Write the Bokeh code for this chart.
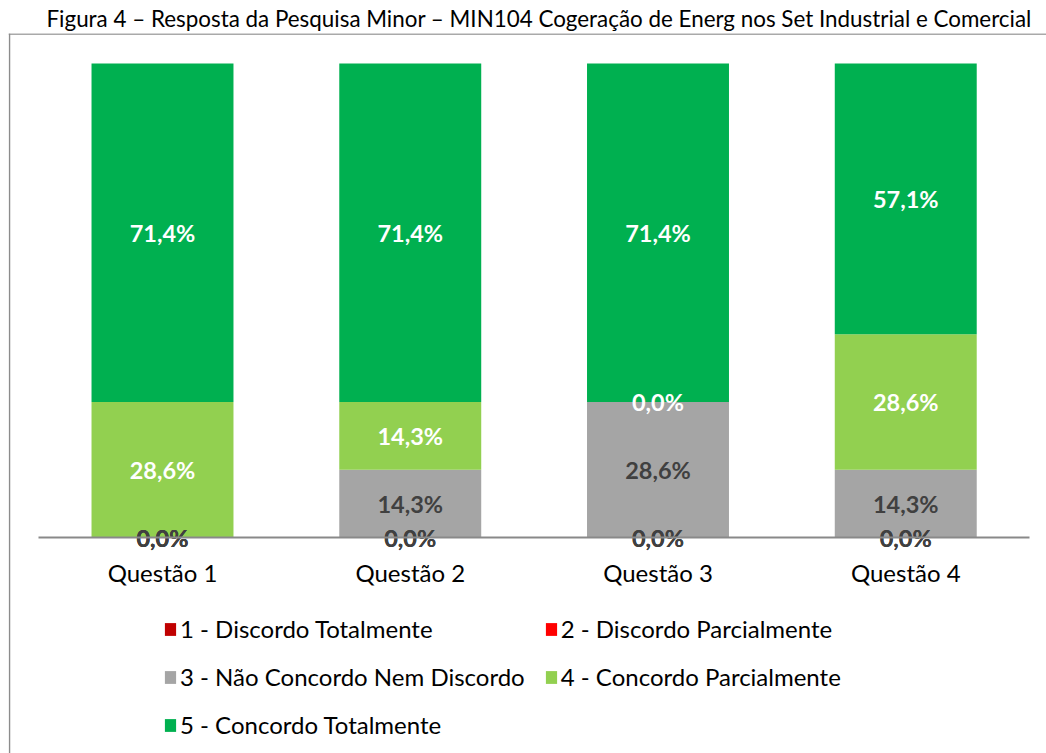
from bokeh.plotting import figure
from bokeh.models import (Range1d, ColumnDataSource, Legend, LegendItem, Span,
                          Title, FixedTicker)
from bokeh.core.properties import value
from bokeh.embed import file_html
from bokeh.resources import INLINE

# ---- data -------------------------------------------------------------
questions = ["Questão 1", "Questão 2", "Questão 3", "Questão 4"]
series_names = ["1 - Discordo Totalmente", "2 - Discordo Parcialmente",
                "3 - Não Concordo Nem Discordo", "4 - Concordo Parcialmente",
                "5 - Concordo Totalmente"]
discordo_total = [0.0, 0.0, 0.0, 0.0]
discordo_parcial = [0.0, 0.0, 0.0, 0.0]
neutro = [0.0, 14.3, 28.6, 14.3]
concordo_parcial = [28.6, 14.3, 0.0, 28.6]
concordo_total = [71.4, 71.4, 71.4, 57.1]
title_text = "Figura 4 – Resposta da Pesquisa Minor – MIN104 Cogeração de Energ nos Set Industrial e Comercial"

series_values = [discordo_total, discordo_parcial, neutro, concordo_parcial, concordo_total]
colors = ["#C00000", "#FF0000", "#A5A5A5", "#92D050", "#00B050"]
label_colors = ["#404040", "#404040", "#404040", "#FFFFFF", "#FFFFFF"]
keys = ["s1", "s2", "s3", "s4", "s5"]

FONT = "Lato"

# ---- layout geometry (pixels) -----------------------------------------
W, H = 1046, 753
FRAME_L, FRAME_T = 8, 33          # frame = chart box (left/top border)
CAT_PX = 247.75                   # pixels per category
FIRST_CENTER = 162.0              # pixel of first category centre
ZERO_PX, HUNDRED_PX = 537.0, 63.0
ppu_y = (ZERO_PX - HUNDRED_PX) / 100.0

x_start = (FRAME_L - FIRST_CENTER) / CAT_PX
x_end = (W - FIRST_CENTER) / CAT_PX
y_end = (ZERO_PX - FRAME_T) / ppu_y
y_start = -(H - ZERO_PX) / ppu_y

xs = list(range(len(questions)))
data = {"x": xs}
for k, vals in zip(keys, series_values):
    data[k] = vals
source = ColumnDataSource(data)

p = figure(width=W, height=H, x_range=Range1d(x_start, x_end),
           y_range=Range1d(y_start, y_end), output_backend="svg", toolbar_location=None,
           min_border_left=FRAME_L, min_border_right=0, min_border_top=FRAME_T,
           min_border_bottom=0)
p.outline_line_color = None
p.xgrid.visible = False
p.ygrid.visible = False
p.yaxis.visible = False

renderers = p.vbar_stack(keys, x="x", width=0.573, source=source, color=colors,
                         line_color=None)

# value labels
cum = [0.0] * len(questions)
for vals, tc in zip(series_values, label_colors):
    ys = [c + v / 2 for c, v in zip(cum, vals)]
    cum = [c + v for c, v in zip(cum, vals)]
    txt = [f"{v:.1f}".replace(".", ",") + "%" for v in vals]
    src = ColumnDataSource({"x": xs, "y": ys, "t": txt})
    p.text(x="x", y="y", text="t", source=src, text_align="center",
           text_baseline="middle", text_font=value(FONT), text_font_style="bold",
           text_font_size="23.5px", text_color=tc)

ax = p.xaxis[0]
ax.fixed_location = 0
ax.bounds = (-0.5, len(questions) - 0.5)
ax.ticker = FixedTicker(ticks=xs)
ax.major_label_overrides = {i: q for i, q in zip(xs, questions)}
ax.axis_line_color = "#898989"
ax.axis_line_width = 2
ax.major_tick_line_color = None
ax.minor_tick_line_color = None
ax.major_label_text_font = FONT
ax.major_label_text_font_size = "24px"
ax.major_label_text_color = "#000000"
ax.major_label_standoff = 14

t = Title(text=title_text, align="left", offset=38, text_font=FONT,
          text_font_size="22.4px", text_font_style="normal", text_color="#000000",
          standoff=4)
p.add_layout(t, "above")

items = [LegendItem(label=n, renderers=[r]) for n, r in zip(series_names, renderers)]
legend = Legend(items=items, orientation="horizontal", ncols=2, location=(155, 14),
                label_text_font=FONT, label_text_font_size="24px",
                label_text_color="#000000", glyph_width=14, glyph_height=16,
                label_standoff=3, spacing=19, border_line_color=None,
                background_fill_alpha=0, padding=0, margin=0)
p.add_layout(legend, "center")

# chart box border (left and top edges visible; the rest runs off the page)
p.add_layout(Span(location=x_start + 1.0 / CAT_PX, dimension="height",
                  line_color="#8C8C8C", line_width=1.5))
p.add_layout(Span(location=y_end - 0.5 / ppu_y, dimension="width",
                  line_color="#8C8C8C", line_width=1.5))

open("out.html", "w").write(file_html(p, INLINE))
